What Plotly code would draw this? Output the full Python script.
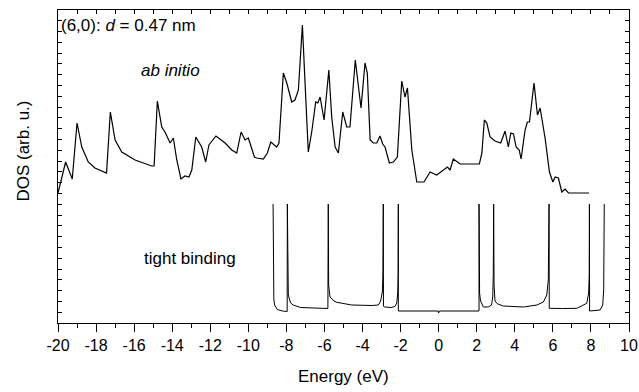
import plotly.graph_objects as go

# ab initio DOS (arb. units)
E_ab = [-20.0, -19.60, -19.25, -19.00, -18.75, -18.41, -18.06, -17.57, -17.45, -17.25,
        -17.00, -16.65, -15.95, -15.08, -14.95, -14.78, -14.55, -14.38, -14.11, -13.94,
        -13.76, -13.54, -13.33, -13.12, -12.97, -12.76, -12.59, -12.45, -12.24, -12.07,
        -11.70, -11.22, -10.87, -10.61, -10.38, -10.17, -10.00, -9.68, -9.56, -9.21,
        -9.00, -8.82, -8.51, -8.39, -8.16, -7.98, -7.72, -7.55, -7.37, -7.16,
        -7.02, -6.85, -6.67, -6.46, -6.35, -6.23, -6.02, -5.77, -5.62, -5.44,
        -5.27, -5.04, -4.83, -4.66, -4.38, -4.22, -4.08, -3.87, -3.75, -3.60,
        -3.43, -3.25, -3.08, -2.94, -2.82, -2.59, -2.38, -2.17, -1.94, -1.77,
        -1.64, -1.41, -1.15, -0.77, -0.45, -0.10, 0.25, 0.46, 0.60, 0.77,
        1.13, 2.14, 2.27, 2.40, 2.53, 2.70, 2.96, 3.26, 3.49, 3.66,
        3.79, 3.93, 4.07, 4.23, 4.33, 4.54, 4.66, 4.77, 5.01, 5.19,
        5.33, 5.59, 5.82, 6.00, 6.12, 6.29, 6.47, 6.64, 6.82, 7.90]
D_ab = [1.32, 1.63, 1.46, 2.02, 1.78, 1.63, 1.57, 1.53, 1.52, 2.13,
        1.85, 1.73, 1.65, 1.59, 1.59, 2.24, 1.98, 1.93, 1.82, 1.87,
        1.65, 1.46, 1.49, 1.48, 1.55, 1.88, 1.82, 1.78, 1.63, 1.80,
        1.89, 1.82, 1.75, 1.72, 1.93, 1.85, 1.87, 1.68, 1.67, 1.66,
        1.72, 1.83, 1.78, 1.82, 2.52, 2.42, 2.23, 2.25, 2.35, 3.00,
        2.42, 1.73, 1.93, 2.23, 2.22, 2.28, 2.05, 2.55, 2.08, 1.78,
        1.72, 2.13, 1.98, 1.98, 2.65, 2.37, 2.17, 2.62, 2.52, 1.85,
        1.82, 1.82, 1.89, 1.81, 1.78, 1.62, 1.63, 1.68, 2.44, 2.28,
        2.37, 1.75, 1.43, 1.43, 1.53, 1.50, 1.55, 1.58, 1.55, 1.66,
        1.61, 1.61, 1.72, 2.05, 2.02, 1.88, 1.84, 1.82, 1.94, 1.78,
        1.92, 1.91, 1.78, 1.75, 1.66, 1.95, 2.03, 2.03, 2.42, 2.10,
        2.17, 1.87, 1.53, 1.43, 1.48, 1.47, 1.33, 1.36, 1.32, 1.32]

# tight-binding DOS (arb. units, singularities clipped)
E_tb = [-8.70, -8.69, -8.66, -8.62, -8.48, -8.20, -7.96, -7.95, -7.93, -7.90,
        -7.78, -7.64, -7.26, -6.50, -5.82, -5.80, -5.78, -5.71, -5.50, -5.35,
        -4.57, -3.50, -3.17, -3.05, -2.96, -2.93, -2.91, -2.90, -2.85, -2.50,
        -2.30, -2.20, -2.15, -2.13, -2.12, -2.12, -0.03, 0.00, 0.03, 2.12,
        2.12, 2.13, 2.15, 2.20, 2.35, 2.60, 2.78, 2.84, 2.87, 2.89,
        2.91, 2.96, 3.10, 3.40, 4.45, 5.16, 5.50, 5.68, 5.76, 5.80,
        5.81, 6.50, 7.26, 7.78, 7.88, 7.91, 7.92, 7.93, 8.48, 8.62,
        8.67, 8.70]
D_tb = [1.21, 0.40, 0.26, 0.20, 0.155, 0.14, 0.135, 1.21, 0.40, 0.30,
        0.22, 0.20, 0.175, 0.17, 0.165, 1.21, 0.40, 0.28, 0.24, 0.227,
        0.20, 0.195, 0.20, 0.24, 0.33, 0.50, 1.21, 0.19, 0.18, 0.175,
        0.185, 0.22, 0.32, 0.50, 1.21, 0.14, 0.14, 0.12, 0.14, 0.14,
        1.21, 0.50, 0.32, 0.24, 0.18, 0.18, 0.20, 0.28, 0.50, 1.21,
        0.40, 0.24, 0.21, 0.19, 0.18, 0.20, 0.23, 0.30, 0.45, 1.21,
        0.167, 0.165, 0.167, 0.217, 0.32, 0.50, 1.21, 0.14, 0.15, 0.20,
        0.35, 1.21]

x_major = list(range(-20, 11, 2))
x_labels = [str(v) for v in x_major]

FONT = "Arial, Liberation Sans, sans-serif"

fig = go.Figure()
fig.add_trace(go.Scatter(x=E_ab, y=D_ab, mode="lines",
                         line=dict(color="black", width=1.2), showlegend=False))
fig.add_trace(go.Scatter(x=E_tb, y=D_tb, mode="lines",
                         line=dict(color="black", width=1.0), showlegend=False))
# invisible trace to activate top axis
fig.add_trace(go.Scatter(x=[-20], y=[0.5], xaxis="x2", mode="markers",
                         marker=dict(opacity=0), showlegend=False, hoverinfo="skip"))

fig.update_layout(
    width=639, height=392,
    margin=dict(l=58, r=10, t=10, b=69, autoexpand=False),
    paper_bgcolor="white", plot_bgcolor="white",
    font=dict(family=FONT, color="black", size=16),
    xaxis=dict(range=[-20, 10], tickvals=x_major, ticktext=x_labels,
               ticks="outside", ticklen=8, tickwidth=1, tickcolor="black",
               minor=dict(dtick=1, tick0=0, ticks="outside", ticklen=4,
                          tickcolor="black", tickwidth=1),
               showline=True, mirror=True, linecolor="black", linewidth=1,
               showgrid=False, zeroline=False, automargin=False,
               tickfont=dict(size=16, family=FONT)),
    xaxis2=dict(range=[-20, 10], overlaying="x", side="top", anchor="y",
                dtick=1, tick0=0, ticks="inside", ticklen=4, tickcolor="black",
                showticklabels=False, showline=True, linecolor="black",
                linewidth=1, showgrid=False, zeroline=False, automargin=False),
    yaxis=dict(range=[0.02, 3.15], tick0=0.02, dtick=(3.15 - 0.02) / 29,
               ticks="inside", ticklen=4, tickcolor="black",
               showticklabels=False, showline=True, mirror="ticks",
               linecolor="black", linewidth=1, showgrid=False, zeroline=False,
               automargin=False),
    annotations=[
        dict(text="Energy (eV)", xref="paper", yref="paper", x=0.5, y=-0.172,
             xanchor="center", yanchor="middle", showarrow=False,
             font=dict(size=17, family=FONT)),
        dict(text="DOS (arb. u.)", xref="paper", yref="paper", x=-0.06, y=0.55,
             xanchor="center", yanchor="middle", textangle=-90, showarrow=False,
             font=dict(size=17, family=FONT)),
        dict(text="(6,0): <i>d</i> = 0.47 nm", xref="x", yref="y", x=-20, y=3.0,
             xanchor="left", yanchor="middle", xshift=1, showarrow=False,
             font=dict(size=17, family=FONT)),
        dict(text="<i>ab initio</i>", xref="x", yref="y", x=-14.11, y=2.55,
             xanchor="center", yanchor="middle", showarrow=False,
             font=dict(size=17, family=FONT)),
        dict(text="tight binding", xref="x", yref="y", x=-13.06, y=0.67,
             xanchor="center", yanchor="middle", showarrow=False,
             font=dict(size=17, family=FONT)),
    ],
)

fig.write_html("out.html", config={"displayModeBar": False},
               post_script="document.body.style.margin='0';document.body.style.overflow='hidden';")
